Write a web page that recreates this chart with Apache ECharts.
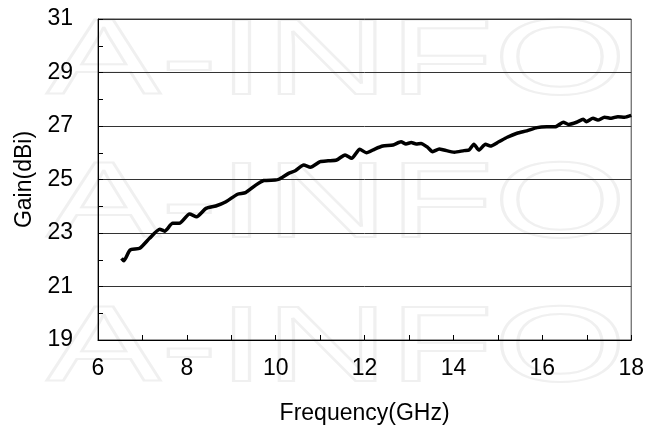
<!DOCTYPE html>
<html>
<head>
<meta charset="utf-8">
<script src="https://cdn.jsdelivr.net/npm/echarts@6/dist/echarts.min.js"></script>
<style>
  html, body { margin: 0; padding: 0; background: #fff; }
  #chart { width: 647px; height: 435px; }
</style>
</head>
<body>
<div id="chart"></div>
<script>
// frequency (GHz) and gain (dBi)
const freq = [6.53, 6.58, 6.72, 6.94, 7.16, 7.39, 7.50, 7.68, 7.83, 8.06, 8.22, 8.43, 8.65, 8.88,
  9.14, 9.32, 9.55, 9.73, 9.99, 10.07, 10.29, 10.44, 10.63, 10.78, 11.00, 11.18, 11.37, 11.56,
  11.71, 11.89, 12.04, 12.23, 12.41, 12.64, 12.82, 12.93, 13.05, 13.16, 13.27, 13.42, 13.53,
  13.68, 13.79, 14.02, 14.24, 14.35, 14.46, 14.57, 14.72, 14.83, 15.02, 15.21, 15.43, 15.65,
  15.88, 16.10, 16.29, 16.47, 16.59, 16.77, 16.92, 16.99, 17.14, 17.25, 17.40, 17.55, 17.70,
  17.85, 18.00]
const gain = [22.05, 21.96, 22.36, 22.43, 22.80, 23.14, 23.07, 23.36, 23.36, 23.71, 23.61, 23.92,
  24.01, 24.17, 24.45, 24.51, 24.79, 24.96, 24.98, 25.01, 25.23, 25.33, 25.54, 25.46, 25.67,
  25.70, 25.73, 25.92, 25.79, 26.13, 26.00, 26.14, 26.25, 26.29, 26.41, 26.33, 26.38, 26.33,
  26.35, 26.20, 26.04, 26.14, 26.10, 26.02, 26.08, 26.10, 26.32, 26.10, 26.32, 26.25, 26.41,
  26.58, 26.73, 26.82, 26.94, 26.97, 26.97, 27.14, 27.06, 27.14, 27.25, 27.16, 27.29, 27.22,
  27.33, 27.29, 27.35, 27.33, 27.40]

const xTicks = [6, 18, 2]   // min, max, interval
const yTicks = [19, 31, 2]
const watermark = 'A-INFO'

const chart = echarts.init(document.getElementById('chart'))

const font = 'Liberation Sans, Arial, sans-serif'
const mark = top => ({
  type: 'text',
  left: 45,
  top: top,
  z: -10,
  silent: true,
  scaleX: 1.6,
  style: {
    text: watermark,
    font: '107px ' + font,
    fill: 'rgba(0,0,0,0)',
    stroke: '#f0f0f0',
    lineWidth: 2
  }
})

chart.setOption({
  animation: false,
  backgroundColor: '#fff',
  graphic: [mark(10), mark(153), mark(297)],
  grid: {
    left: 98,
    right: 12,
    top: 19,
    bottom: 95,
    show: true,
    borderColor: '#444',
    borderWidth: 1
  },
  xAxis: {
    type: 'value',
    min: xTicks[0],
    max: xTicks[1],
    interval: xTicks[2],
    name: 'Frequency(GHz)',
    nameLocation: 'middle',
    nameGap: 62,
    nameTextStyle: { fontFamily: font, fontSize: 23, color: '#000' },
    axisLine: { lineStyle: { color: '#000', width: 1 } },
    axisTick: { inside: true, length: 5, lineStyle: { color: '#000' } },
    minorTick: { show: true, splitNumber: 2, length: 5, lineStyle: { color: '#000' } },
    axisLabel: { fontFamily: font, fontSize: 23, color: '#000', margin: 17 },
    splitLine: { show: false }
  },
  yAxis: {
    type: 'value',
    min: yTicks[0],
    max: yTicks[1],
    interval: yTicks[2],
    name: 'Gain(dBi)',
    nameLocation: 'middle',
    nameGap: 62,
    nameTextStyle: { fontFamily: font, fontSize: 23, color: '#000' },
    axisLine: { show: true, lineStyle: { color: '#000', width: 1 } },
    axisTick: { inside: true, length: 5, lineStyle: { color: '#000' } },
    minorTick: { show: true, splitNumber: 2, length: 5, lineStyle: { color: '#000' } },
    axisLabel: { fontFamily: font, fontSize: 23, color: '#000', margin: 25 },
    splitLine: { show: true, lineStyle: { color: '#333', width: 1 } }
  },
  series: [{
    type: 'line',
    data: freq.map((f, i) => [f, gain[i]]),
    showSymbol: false,
    smooth: 0.2,
    lineStyle: { color: '#000', width: 3.5 }
  }]
})
</script>
</body>
</html>
